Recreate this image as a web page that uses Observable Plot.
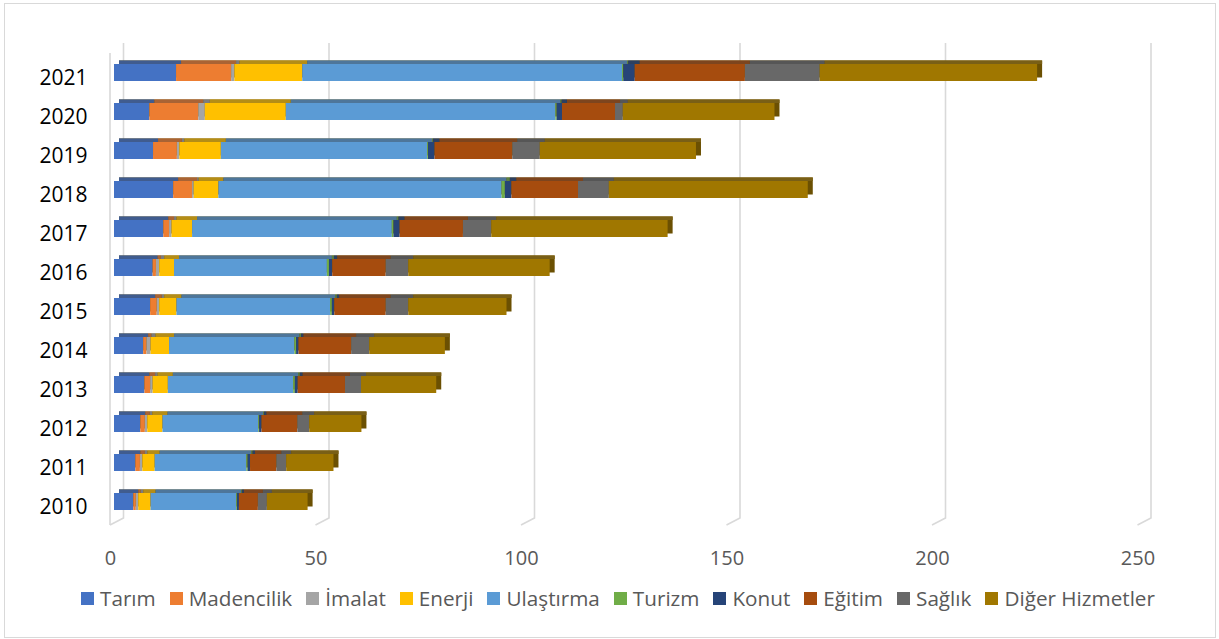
<!DOCTYPE html>
<html><head><meta charset="utf-8">
<script src="https://cdn.jsdelivr.net/npm/d3@7"></script>
<script src="https://cdn.jsdelivr.net/npm/@observablehq/plot@0.6"></script>
<style>
body{margin:0;background:#fff;font-family:"Open Sans",sans-serif;}
#wrap{position:relative;width:1219px;height:639px;overflow:hidden;background:#fff;}
#frame{position:absolute;left:4px;top:3px;width:1212px;height:635px;box-sizing:border-box;border:1px solid #d9d9d9;}
#chart{position:absolute;left:0;top:0;}
#legend{position:absolute;left:81px;top:584px;display:flex;align-items:center;font-size:20.7px;color:#595959;white-space:nowrap;font-family:"Open Sans",sans-serif;}
.item{display:flex;align-items:center;margin-right:14px;}
.sw{width:13px;height:13px;margin-right:6px;}
</style></head><body>
<div id="wrap"><div id="frame"></div><div id="chart"></div><div id="legend"></div></div>
<script>
const years = ["2010","2011","2012","2013","2014","2015","2016","2017","2018","2019","2020","2021"];
const categories = ["Tarım","Madencilik","İmalat","Enerji","Ulaştırma","Turizm","Konut","Eğitim","Sağlık","Diğer Hizmetler"];
const colors = ["#4472C4","#ED7D31","#A5A5A5","#FFC000","#5B9BD5","#70AD47","#264478","#A64C0E","#686868","#A07700"];
const xTicks = [0,50,100,150,200,250];

const tarim      = [4.7,5.2,6.4,7.4,7.1,8.8,9.4,12.0,14.4,9.5,8.6,15.1];
const madencilik = [0.6,1.1,1.1,1.4,0.8,1.6,0.8,1.4,4.6,5.8,11.9,13.4];
const imalat     = [0.6,0.6,0.6,0.6,1.0,0.6,0.8,0.6,0.4,0.6,1.6,0.8];
const enerji     = [3.0,3.0,3.7,3.7,4.5,4.2,3.6,5.0,6.0,10.1,19.7,16.5];
const ulastirma  = [20.8,22.3,23.3,30.5,30.5,37.4,37.2,48.6,68.9,50.2,65.6,77.8];
const turizm     = [0.2,0.3,0.2,0.4,0.4,0.4,0.5,0.4,0.8,0.2,0.3,0.3];
const konut      = [0.5,0.6,0.6,0.7,0.6,0.6,0.8,1.5,1.6,1.6,1.3,2.8];
const egitim     = [4.6,6.4,8.7,11.5,12.8,12.5,13.0,15.4,16.2,18.9,12.9,26.8];
const saglik     = [2.2,2.4,2.9,3.9,4.4,5.5,5.5,6.9,7.5,6.7,1.9,18.2];
const diger      = [9.9,11.5,12.7,18.3,18.4,23.9,34.4,42.9,48.4,38.0,36.9,52.9];

const series = [tarim,madencilik,imalat,enerji,ulastirma,turizm,konut,egitim,saglik,diger];
const table = [];
years.forEach((y,i) => categories.forEach((c,j) => table.push({year:y, sector:c, value:series[j][i]})));

function gridMark(index, scales, values, dims) {
  const sx = scales.x;
  const top = dims.marginTop, bottom = dims.height - dims.marginBottom;
  const g = d3.create("svg:g").attr("fill","none").attr("stroke","#d9d9d9").attr("stroke-width",1.6);
  for (const t of xTicks) {
    const x = sx(t);
    g.append("path").attr("d", `M${x+9.5},${top-8.4}V${bottom-4.7}L${x-4},${bottom+2.3}`);
  }
  const x0 = sx(0);
  g.append("path").attr("d", `M${x0-4},${top+1.6}V${bottom+2.3}`);
  return g.node();
}

const chart = Plot.plot({
  width: 1219,
  height: 580,
  marginLeft: 114,
  marginRight: 77.5,
  marginTop: 51.4,
  marginBottom: 57.3,
  style: {fontFamily: "'Open Sans', sans-serif", background: "transparent"},
  x: {domain: [0,250], label: null},
  y: {domain: years.slice().reverse(), paddingInner: 0.567, paddingOuter: 0.2835, label: null},
  color: {domain: categories, range: colors},
  marks: [
    gridMark,
    Plot.barX(table, Plot.groupY({x: "sum"}, {x: "value", y: "year", fill: "#6b5002", dx: 5, dy: -3.5})),
    Plot.barX(table, Plot.stackX({x: "value", y: "year", z: "sector", fill: "sector", dx: 5, dy: -3.5, insetBottom: 13.5})),
    Plot.barX(table, Plot.stackX({x: "value", y: "year", z: "sector", fill: "#3a3a3a", fillOpacity: 0.38, dx: 5, dy: -3.5, insetBottom: 13.5})),
    Plot.barX(table, Plot.stackX({x: "value", y: "year", z: "sector", fill: "sector"})),
    Plot.axisX(xTicks, {tickSize: 0, tickPadding: 28, dx: -4, color: "#595959", fontSize: 20, label: null}),
    Plot.axisY({tickSize: 0, tickPadding: 27, dy: 5, color: "#000000", fontSize: 21, label: null})
  ]
});
document.getElementById("chart").appendChild(chart);

const legend = d3.select("#legend");
categories.forEach((c,i) => {
  const it = legend.append("div").attr("class","item");
  it.append("div").attr("class","sw").style("background", colors[i]);
  it.append("span").text(c);
});
</script>
</body></html>
